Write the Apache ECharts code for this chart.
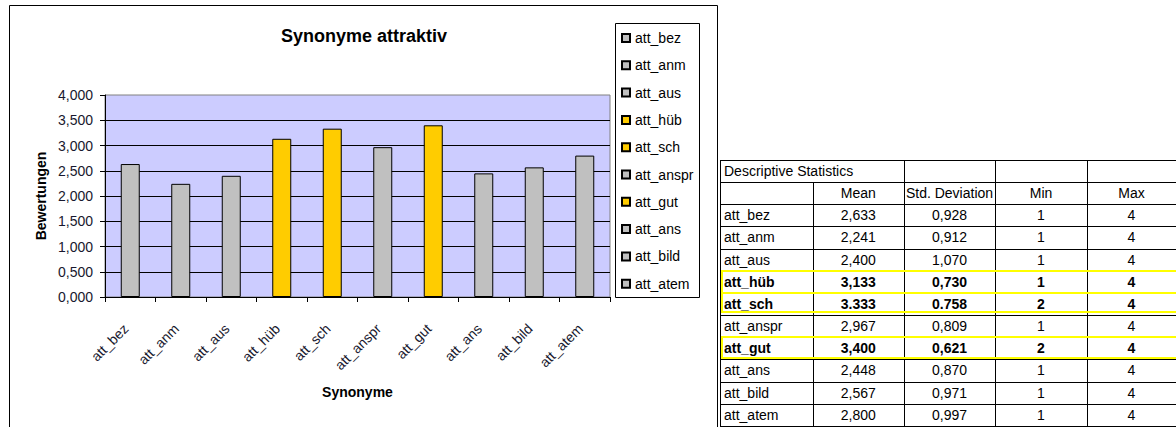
<!DOCTYPE html>
<html><head><meta charset="utf-8">
<script src="https://cdn.jsdelivr.net/npm/echarts@6/dist/echarts.min.js"></script>
<style>
html,body{margin:0;padding:0;background:#fff;overflow:hidden;width:1176px;height:427px}
#chart{position:absolute;left:0;top:0;width:1176px;height:427px}
#table{position:absolute;left:0;top:0;width:1176px;height:427px;font-family:'Liberation Sans',Arial,sans-serif;font-size:14px;color:#000;pointer-events:none;overflow:hidden}
.ln{position:absolute;background:#000}
.hl{position:absolute;box-sizing:border-box;border:2px solid #FFFF00}
.cell{position:absolute;white-space:nowrap;height:22px;line-height:22px}
</style></head><body>
<div id="chart"></div><div id="table"></div>
<script>
// ---- data ----
const categories = ['att_bez','att_anm','att_aus','att_hüb','att_sch','att_anspr','att_gut','att_ans','att_bild','att_atem'];
const means      = [2.633, 2.241, 2.400, 3.133, 3.333, 2.967, 3.400, 2.448, 2.567, 2.800];
const stdDevs    = [0.928, 0.912, 1.070, 0.730, 0.758, 0.809, 0.621, 0.870, 0.971, 0.997];
const mins       = [1, 1, 1, 1, 2, 1, 2, 1, 1, 1];
const maxs       = [4, 4, 4, 4, 4, 4, 4, 4, 4, 4];
const decimalMarks = [',', ',', ',', ',', '.', ',', ',', ',', ',', ','];
const highlighted = ['att_hüb', 'att_sch', 'att_gut'];
const yMin = 0, yMax = 4, yStep = 0.5;
const chartTitle = 'Synonyme attraktiv';
const xTitle = 'Synonyme';
const yTitle = 'Bewertungen';
const tableTitle = 'Descriptive Statistics';
const tableHeaders = ['', 'Mean', 'Std. Deviation', 'Min', 'Max'];

// ---- chart ----
const FONT = "'Liberation Sans', Arial, sans-serif";
const series = categories.map((name, i) => ({
  name, type: 'bar', barWidth: 19, barGap: '-100%',
  itemStyle: { color: highlighted.includes(name) ? '#FFCC00' : '#C0C0C0', borderColor: '#000', borderWidth: 1 },
  emphasis: { disabled: true },
  data: means.map((v, j) => (j === i ? v : '-'))
}));

const chart = echarts.init(document.getElementById('chart'), null, { renderer: 'svg' });
chart.setOption({
  animation: false,
  textStyle: { fontFamily: FONT },
  title: {
    text: chartTitle, left: 364, top: 27, textAlign: 'center', padding: 0,
    textStyle: { fontSize: 18, fontWeight: 'bold', color: '#000', fontFamily: FONT }
  },
  graphic: [
    { type: 'rect', z: -1, shape: { x: 9.5, y: 5.5, width: 708, height: 440 }, style: { fill: 'none', stroke: '#000', lineWidth: 1 } },
    { type: 'rect', z: -1, shape: { x: 615.5, y: 23.5, width: 84, height: 274 }, style: { fill: '#fff', stroke: '#000', lineWidth: 1 } }
  ],
  legend: {
    orient: 'vertical', left: 621, top: 31, padding: 0, itemGap: 13.3,
    itemWidth: 8, itemHeight: 8, icon: 'rect', selectedMode: false,
    textStyle: { fontSize: 14, lineHeight: 14, color: '#000', fontFamily: FONT },
    data: categories
  },
  grid: {
    left: 105, top: 95, width: 505, height: 202, show: true,
    backgroundColor: '#CCCCFF', borderColor: '#808080', borderWidth: 1
  },
  xAxis: {
    type: 'category', data: categories,
    name: xTitle, nameLocation: 'middle', nameGap: 88,
    nameTextStyle: { fontSize: 14, fontWeight: 'bold', color: '#000', fontFamily: FONT },
    axisLine: { lineStyle: { color: '#000', width: 1 } },
    axisTick: { show: true, length: 5, lineStyle: { color: '#000' } },
    axisLabel: { rotate: 45, interval: 0, fontSize: 14, color: '#18182e', margin: 25, padding: [0, 6, 0, 0], fontFamily: FONT }
  },
  yAxis: {
    type: 'value', min: yMin, max: yMax, interval: yStep,
    name: yTitle, nameLocation: 'middle', nameRotate: 90, nameGap: 57,
    nameTextStyle: { fontSize: 14, fontWeight: 'bold', color: '#000', fontFamily: FONT },
    axisLine: { show: true, lineStyle: { color: '#000', width: 1 } },
    axisTick: { show: true, length: 5, lineStyle: { color: '#000' } },
    axisLabel: { fontSize: 14, color: '#18182e', margin: 12, fontFamily: FONT,
      formatter: v => v.toFixed(3).replace('.', ',') },
    splitLine: { show: true, showMaxLine: false, lineStyle: { color: '#000', width: 1 } }
  },
  series
});

// ---- table ----
const T = document.getElementById('table');
const top0 = 160, rowH = 22.15;
const colX = [721, 812.7, 904, 995, 1087, 1176];
function add(cls, css, text) {
  const d = document.createElement('div');
  d.className = cls;
  Object.assign(d.style, css);
  if (text !== undefined) d.textContent = text;
  T.appendChild(d);
  return d;
}
const nRows = categories.length + 2;
const bottom = top0 + rowH * nRows;
add('ln', { left: '718px', top: top0 + 'px', width: '460px', height: (bottom - top0 + 5) + 'px', background: '#fff' });
for (let k = 0; k <= nRows; k++) {
  add('ln', { left: '720px', top: Math.round(top0 + rowH * k) + 'px', width: '460px', height: '1px' });
}
add('ln', { left: '717px', top: top0 + 'px', width: '1px', height: '270px' });
add('ln', { left: '720px', top: top0 + 'px', width: '1px', height: '270px' });
colX.slice(1, 5).forEach((x, i) => {
  const startRow = i === 0 ? 1 : 0;
  add('ln', { left: Math.round(x) + 'px', top: Math.round(top0 + rowH * startRow) + 'px', width: '1px', height: '270px' });
});
function rowTop(k) { return Math.round(top0 + rowH * k) + 'px'; }
function centered(text, col, k, bold) {
  add('cell', { left: colX[col] + 'px', width: (colX[col + 1] - colX[col]) + 'px', textAlign: 'center', top: rowTop(k), fontWeight: bold ? 'bold' : 'normal' }, text);
}
add('cell', { left: '724px', top: rowTop(0) }, tableTitle);
tableHeaders.forEach((h, c) => { if (h) centered(h, c, 1, false); });
categories.forEach((name, i) => {
  const k = i + 2;
  const bold = highlighted.includes(name);
  const sep = decimalMarks[i];
  add('cell', { left: '724px', top: rowTop(k), fontWeight: bold ? 'bold' : 'normal' }, name);
  centered(means[i].toFixed(3).replace('.', sep), 1, k, bold);
  centered(stdDevs[i].toFixed(3).replace('.', sep), 2, k, bold);
  centered(String(mins[i]), 3, k, bold);
  centered(String(maxs[i]), 4, k, bold);
});
const hlBoxes = { 'att_hüb': [0, 0], 'att_sch': [0, -3], 'att_gut': [0, -1] };
highlighted.forEach(name => {
  const k = categories.indexOf(name) + 2;
  const adj = hlBoxes[name] || [0, 0];
  const t = top0 + rowH * k + adj[0];
  const h = rowH + adj[1] + 1;
  add('hl', { left: '721px', top: Math.round(t - 1) + 'px', width: '470px', height: Math.round(h + 1) + 'px' });
});
</script>
</body></html>
